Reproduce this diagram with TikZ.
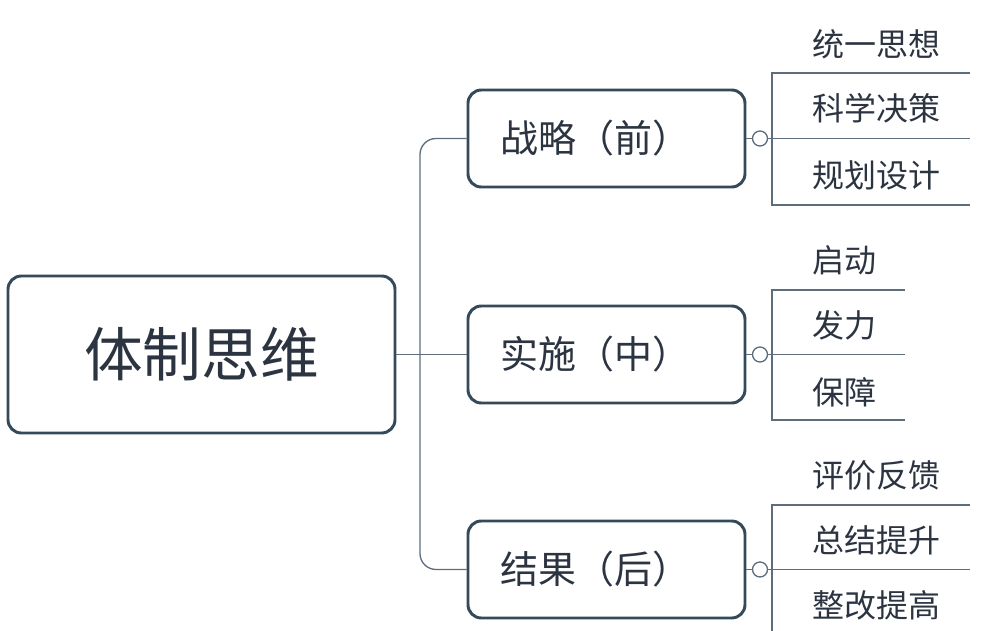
\documentclass[tikz,border=0pt]{standalone}
\usepackage{fontspec}
\setmainfont{Noto Sans CJK SC}
\begin{document}
\begin{tikzpicture}[x=0.75pt,y=-0.75pt,
  bx/.style={draw=edge,line width=2.2pt,rounded corners=10pt,fill=white},
  br/.style={bx,minimum width=277*0.75pt,minimum height=97*0.75pt,inner xsep=24pt,text width=244*0.75pt-24pt,align=left,font=\fontsize{28.5}{28.5}\selectfont,text=txt},
  ln/.style={draw=edge!80,line width=1pt},
  lf/.style={anchor=west,inner sep=0pt,font=\fontsize{24}{24}\selectfont,text=txt}]
\definecolor{edge}{HTML}{34495A}
\definecolor{txt}{HTML}{2B3440}
\useasboundingbox (0,0) rectangle (986,631);
\node[bx,minimum width=387*0.75pt,minimum height=157*0.75pt,font=\fontsize{44}{44}\selectfont,text=txt] (root) at (201.5,354.5) {体制思维};
\node[br] (a) at (606.5,138.5) {战略（前）};
\node[br] (b) at (606.5,354.5) {实施（中）};
\node[br] (c) at (606.5,569.5) {结果（后）};
\coordinate (j) at (420,354.5);
\draw[ln] (root.east) -- (b.west);
\draw[ln,rounded corners=12pt] (a.west) -| (j) |- (c.west);
\foreach \n/\y in {a/138.5,b/354.5,c/569.5}{
  \node[draw=edge!80,line width=1pt,circle,inner sep=0pt,minimum size=15*0.75pt] (o\n) at (760,\y) {};
  \draw[ln] (\n.east) -- (o\n.west);
  \draw[ln] (o\n.east) -- (772,\y);
}
\draw[ln] (970,73) -- (772,73) -- (772,205) -- (970,205);
\draw[ln] (772,138.5) -- (970,138.5);
\node[lf] (t1) at (812,44) {统一思想};
\node[lf] (t2) at (812,108) {科学决策};
\node[lf] (t3) at (812,175) {规划设计};
\draw[ln] (905,290) -- (772,290) -- (772,420) -- (905,420);
\draw[ln] (772,354.5) -- (905,354.5);
\node[lf] (m1) at (812,260) {启动};
\node[lf] (m2) at (812,325) {发力};
\node[lf] (m3) at (812,392) {保障};
\draw[ln] (970,505) -- (772,505) -- (772,631);
\draw[ln] (772,569.5) -- (970,569.5);
\node[lf] (b1) at (812,475) {评价反馈};
\node[lf] (b2) at (812,540) {总结提升};
\node[lf] (b3) at (812,605) {整改提高};
\end{tikzpicture}
\end{document}
